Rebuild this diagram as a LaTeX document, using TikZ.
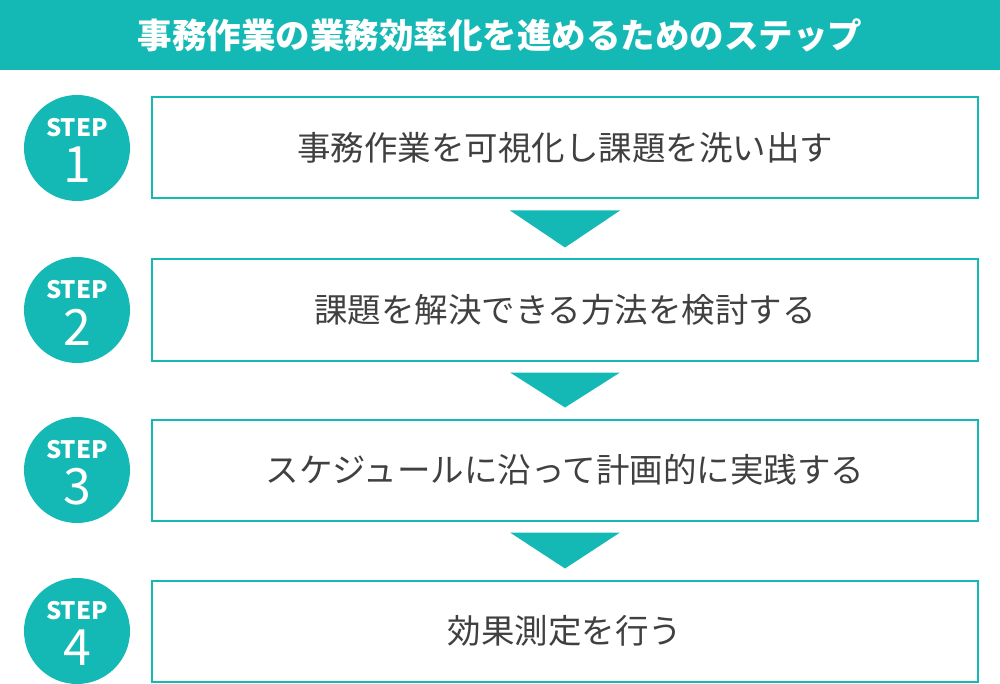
\documentclass[tikz,border=0pt]{standalone}
\usepackage{fontspec}
\setmainfont{Noto Sans CJK JP}
\definecolor{teal1}{HTML}{14B9B5}
\definecolor{txt}{HTML}{404040}
\begin{document}
\begin{tikzpicture}[x=1pt,y=-1pt,
  stepbox/.style={draw=teal1,line width=2pt,minimum width=826pt,minimum height=101pt,anchor=west,inner sep=0pt,text=txt,font=\fontsize{33.5}{36}\selectfont},
  stepcirc/.style={circle,fill=teal1,minimum size=106pt,inner sep=0pt},
  tri/.style={fill=teal1}]
\useasboundingbox (0,0) rectangle (1000,684);
\fill[teal1] (0,0) rectangle (1000,70);
\node[text=white,font=\fontsize{34.5}{38}\selectfont\bfseries] (title) at (500,35) {事務作業の業務効率化を進めるためのステップ};
\foreach \i/\y/\t in {1/148/事務作業を可視化し課題を洗い出す,2/310/課題を解決できる方法を検討する,3/470/スケジュールに沿って計画的に実践する,4/631/効果測定を行う}{
  \node[stepcirc] (c\i) at (77,\y) {};
  \node[text=white,font=\fontsize{24}{26}\selectfont\bfseries] (s\i) at (77,\y-20) {STEP};
  \node[text=white,font=\fontsize{50}{52}\selectfont] (n\i) at (77,\y+17) {\i};
  \node[stepbox] (b\i) at (151,\y) {\t};
}
\foreach \a/\b in {1/2,2/3,3/4}{
  \fill[teal1] ([xshift=-55pt,yshift=-11pt]b\a.south) -- ([xshift=55pt,yshift=-11pt]b\a.south) -- ([yshift=11pt]b\b.north) -- cycle;
}
\end{tikzpicture}
\end{document}
